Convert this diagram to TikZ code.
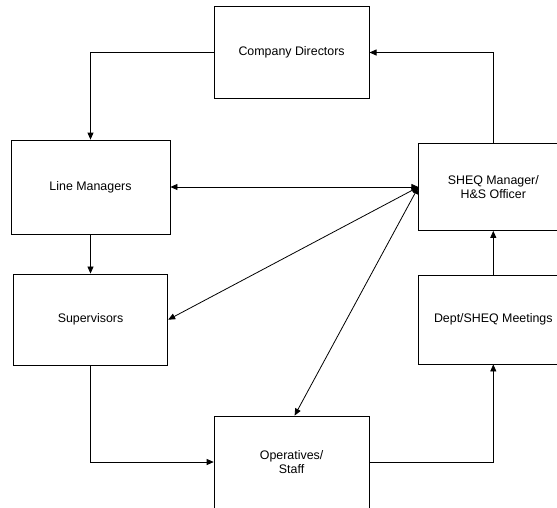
\documentclass[tikz,border=0pt]{standalone}
\usepackage{fontspec}
\setmainfont{Liberation Sans}
\usetikzlibrary{arrows.meta}
\tikzset{
	orgbox/.style = {draw=black, rectangle, align=center, inner sep=0pt,
		font=\fontsize{12.4}{14.3}\selectfont, line width=0.8pt},% case de base
	wide_box/.style = {orgbox, minimum width=155pt, minimum height=91.5pt},% colonne gauche/centre
	side_box/.style = {orgbox, minimum width=149pt, minimum height=89pt}% colonne droite
}

\begin{document}
\begin{tikzpicture}[->,>={Triangle[length=7pt,width=6pt]},x=1pt,y=-1pt,
		line width=0.8pt]
		\clip (0,0) rectangle (557,507);
		\node [wide_box] (cd) at (291.6,52.5) {Company Directors};
		\node [wide_box, minimum width=159pt, minimum height=94pt] (lm) at (90.5,187) {Line Managers};
		\node [side_box, minimum height=87pt] (sheq) at (493.3,187) {SHEQ Manager/\\H\&S Officer};
		\node [wide_box, minimum width=154.5pt] (sup) at (90.5,319.7) {Supervisors};
		\node [side_box] (dept) at (493.3,319.5) {Dept/SHEQ Meetings};
		\node [wide_box, minimum height=92pt] (ops) at (291.6,462) {Operatives/\\Staff};
		% boucle exterieure
		\draw (cd.west) -| (lm.north);
		\draw (lm) -- (sup);
		\draw (sup.south) |- (ops.west);
		\draw (ops.east) -| (dept.south);
		\draw (dept) -- (sheq);
		\draw (sheq.north) |- (cd.east);
		% liens avec le SHEQ
		\draw [<->] (lm.east) -- (sheq.west);
		\draw [<->] (sup.east) -- (sheq.west);
		\draw [<->] ([xshift=3pt]ops.north) -- (sheq.west);
\end{tikzpicture}
\end{document}
